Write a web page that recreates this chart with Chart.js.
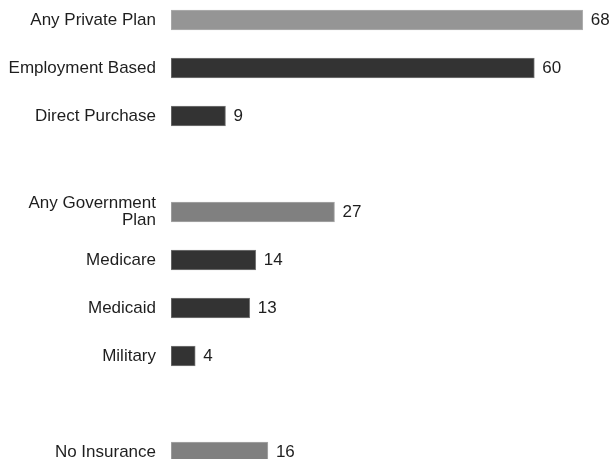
<!DOCTYPE html>
<html>
<head>
<meta charset="utf-8">
<script src="https://cdn.jsdelivr.net/npm/chart.js@4/dist/chart.umd.min.js"></script>
<style>
  html, body { margin: 0; padding: 0; background: #fff; overflow: hidden; }
  #wrap { position: absolute; left: 0; top: -4px; width: 612px; height: 480px; }
</style>
</head>
<body>
<div id="wrap"><canvas id="coverage"></canvas></div>
<script>
// categories (empty strings are the gaps between groups)
const labels = [
  'Any Private Plan',
  'Employment Based',
  'Direct Purchase',
  '',
  ['Any Government', 'Plan'],
  'Medicare',
  'Medicaid',
  'Military',
  '',
  'No Insurance'
];
const values = [68, 60, 9, null, 27, 14, 13, 4, null, 16];
const colors = ['#959595', '#333333', '#333333', null, '#808080', '#333333', '#333333', '#333333', null, '#808080'];
const borders = ['#b0b0b0', '#7a7a7a', '#7a7a7a', null, '#a8a8a8', '#7a7a7a', '#7a7a7a', '#7a7a7a', null, '#a8a8a8'];

const FONT = '17px "Liberation Sans", Arial, sans-serif'

// category names on the left and values at the end of each bar
const barText = {
  id: 'barText',
  afterDatasetsDraw(chart) {
    const ctx = chart.ctx
    const meta = chart.getDatasetMeta(0)
    ctx.save()
    ctx.font = FONT
    ctx.fillStyle = '#1e1e1e'
    ctx.textBaseline = 'middle'
    meta.data.forEach((bar, i) => {
      if (values[i] == null) return
      ctx.textAlign = 'left'
      ctx.fillText(String(values[i]), bar.x + 8, bar.y)
      ctx.textAlign = 'right'
      const lines = Array.isArray(labels[i]) ? labels[i] : [labels[i]]
      const lh = 17
      const y0 = bar.y - (lines.length - 1) * lh / 2
      lines.forEach((t, k) => ctx.fillText(t, 156, y0 + k * lh))
    })
    ctx.restore()
  }
}

new Chart(document.getElementById('coverage'), {
  type: 'bar',
  data: {
    labels: labels,
    datasets: [{
      data: values,
      backgroundColor: colors,
      borderColor: borders,
      borderWidth: 1,
      barThickness: 20,
      borderSkipped: false
    }]
  },
  plugins: [barText],
  options: {
    indexAxis: 'y',
    responsive: true,
    maintainAspectRatio: false,
    animation: false,
    layout: { padding: { left: 171, right: 5, top: 0, bottom: 0 } },
    plugins: {
      legend: { display: false },
      tooltip: { enabled: false }
    },
    scales: {
      x: { display: false, min: 0, max: 72 },
      y: { display: false }
    }
  }
})
</script>
</body>
</html>
